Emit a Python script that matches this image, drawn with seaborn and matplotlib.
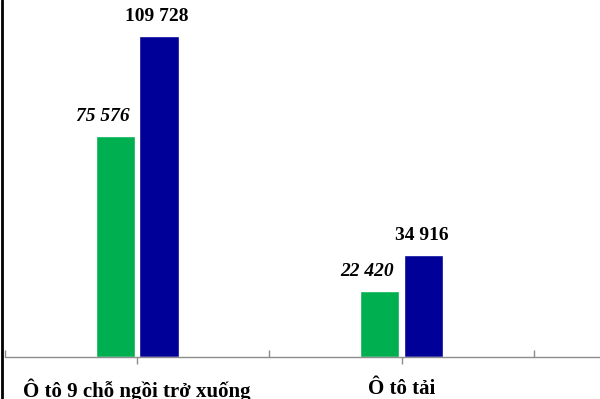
import matplotlib
matplotlib.use("Agg")
import matplotlib.pyplot as plt
from matplotlib.lines import Line2D
from matplotlib.ticker import FixedLocator
import seaborn as sns
import pandas as pd

categories = ["Ô tô 9 chỗ ngồi trở xuống", "Ô tô tải"]
series_names = ["Kỳ trước", "Kỳ này"]
values_prev = [75576, 22420]
values_curr = [109728, 34916]
value_labels_prev = ["75 576", "22 420"]
value_labels_curr = ["109 728", "34 916"]

colors = ["#00B050", "#000099"]

df = pd.DataFrame({
    "category": categories * 2,
    "series": [series_names[0]] * 2 + [series_names[1]] * 2,
    "value": values_prev + values_curr,
})

sns.set_theme(style="white")
plt.rcParams["font.family"] = ["Liberation Serif", "DejaVu Serif"]

fig = plt.figure(figsize=(6.0, 3.99), dpi=100)
ax = fig.add_axes([5 / 600, 42 / 399, 595 / 600, 357 / 399])

sns.barplot(data=df, x="category", y="value", hue="series", order=categories,
            hue_order=series_names, palette=colors, width=0.33, gap=0.1,
            saturation=1, legend=False, ax=ax)

ax.set_xlim(-0.5, 1.75)
ax.set_ylim(0, 122030)
ax.set_xlabel("")
ax.set_ylabel("")
ax.set_yticks([])

for s in ["top", "right", "left"]:
    ax.spines[s].set_visible(False)
ax.spines["bottom"].set_color("#8c8c8c")
ax.spines["bottom"].set_linewidth(1)

ax.tick_params(axis="x", which="major", direction="out", length=5, color="#8c8c8c",
               width=1, pad=10.5, labelsize=15, bottom=True)
ax.xaxis.set_minor_locator(FixedLocator([-0.5, 0.5, 1.5]))
ax.tick_params(axis="x", which="minor", direction="in", length=5, color="#8c8c8c",
               width=1, bottom=True)
for lab in ax.get_xticklabels():
    lab.set_fontweight("bold")
    lab.set_color("black")

containers = ax.containers
for cont, labels, style, dx in [(containers[0], value_labels_prev, "italic", -13),
                                (containers[1], value_labels_curr, "normal", -2)]:
    for bar, txt in zip(cont, labels):
        ax.annotate(txt, (bar.get_x() + bar.get_width() / 2, bar.get_height()),
                    xytext=(dx * 0.72, 11), textcoords="offset points",
                    ha="center", va="baseline", fontsize=14, fontweight="bold",
                    fontstyle=style, color="black", annotation_clip=False)

fig.add_artist(Line2D([1.5 / 600, 1.5 / 600], [0, 1], transform=fig.transFigure,
                      color="black", lw=2))

fig.savefig("out.png", dpi=100, facecolor="white")
